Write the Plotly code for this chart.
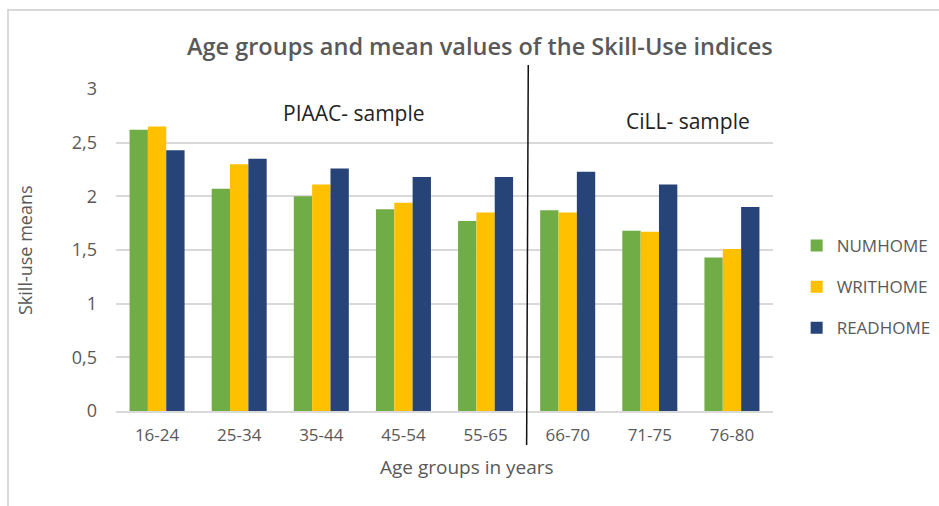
import plotly.graph_objects as go

# Age groups (PIAAC: 16-65, CiLL: 66-80)
age_groups = ["16-24", "25-34", "35-44", "45-54", "55-65", "66-70", "71-75", "76-80"]

# Mean skill-use index per age group
numhome = [2.62, 2.07, 2.00, 1.88, 1.77, 1.87, 1.68, 1.43]
writhome = [2.65, 2.30, 2.11, 1.94, 1.85, 1.85, 1.67, 1.51]
readhome = [2.43, 2.35, 2.26, 2.18, 2.18, 2.23, 2.11, 1.90]

y_tick_vals = [0, 0.5, 1, 1.5, 2, 2.5, 3]
y_tick_text = ["0", "0,5", "1", "1,5", "2", "2,5", "3"]

series = [
    ("NUMHOME", numhome, "#70AD47"),
    ("WRITHOME", writhome, "#FFC000"),
    ("READHOME", readhome, "#264478"),
]

FONT = "Open Sans"
GREY = "#595959"

fig = go.Figure()
for name, vals, color in series:
    fig.add_trace(go.Bar(
        name=name, x=age_groups, y=vals,
        marker=dict(color=color, line=dict(width=0)),
        legendgroup=name,
    ))

fig.update_layout(
    width=939, height=506,
    margin=dict(l=116, r=166, t=89, b=95, autoexpand=False),
    paper_bgcolor="white", plot_bgcolor="white",
    barmode="group", bargap=0.33, bargroupgap=0,
    font=dict(family=FONT, color=GREY, size=14),
    showlegend=True,
    legend=dict(
        x=1.036, xanchor="left", y=0.385, yanchor="middle",
        font=dict(family=FONT, size=17, color=GREY),
        tracegroupgap=16, bgcolor="rgba(0,0,0,0)",
    ),
    xaxis=dict(
        showgrid=False, showline=True, linecolor="#d9d9d9", linewidth=1.5,
        ticks="", tickfont=dict(size=17, color=GREY), ticklabelstandoff=8,
    ),
    yaxis=dict(
        range=[0, 3], tickvals=y_tick_vals, ticktext=y_tick_text,
        showgrid=True, gridcolor="#d9d9d9", gridwidth=1.5,
        zeroline=False, showline=False, ticks="",
        tickfont=dict(size=18, color=GREY), ticklabelstandoff=18,
    ),
    annotations=[
        dict(text="Age groups and mean values of the Skill-Use indices",
             xref="paper", yref="paper", x=(480 - 116) / 657, y=(411 - 46) / 322,
             showarrow=False, xanchor="center", yanchor="middle",
             font=dict(family=FONT, size=23.5, color=GREY, weight=600)),
        dict(text="Age groups in years", xref="paper", yref="paper",
             x=(467 - 116) / 657, y=(411 - 467) / 322, showarrow=False,
             xanchor="center", yanchor="middle",
             font=dict(family=FONT, size=19, color=GREY)),
        dict(text="Skill-use means", xref="paper", yref="paper",
             x=(25 - 116) / 657, y=0.5, textangle=-90, showarrow=False,
             xanchor="center", yanchor="middle",
             font=dict(family=FONT, size=18, color=GREY)),
        dict(text="PIAAC- sample", xref="x", yref="y", x=2.40, y=2.776,
             showarrow=False, xanchor="center", yanchor="middle",
             font=dict(family=FONT, size=21, color="#222222")),
        dict(text="CiLL- sample", xref="x", yref="y", x=6.46, y=2.70,
             showarrow=False, xanchor="center", yanchor="middle",
             font=dict(family=FONT, size=21, color="#222222")),
    ],
    shapes=[
        # divider between the two samples
        dict(type="line", xref="x", yref="paper", x0=4.52, x1=4.50,
             y0=(411 - 65) / 322, y1=(411 - 445) / 322,
             line=dict(color="#111111", width=1.5)),
        # chart frame
        dict(type="rect", xref="paper", yref="paper",
             x0=(8 - 116) / 657, x1=(950 - 116) / 657,
             y0=(411 - 520) / 322, y1=(411 - 10) / 322,
             line=dict(color="#d9d9d9", width=2), fillcolor="rgba(0,0,0,0)",
             layer="below"),
    ],
)

fig.write_html("out.html")
